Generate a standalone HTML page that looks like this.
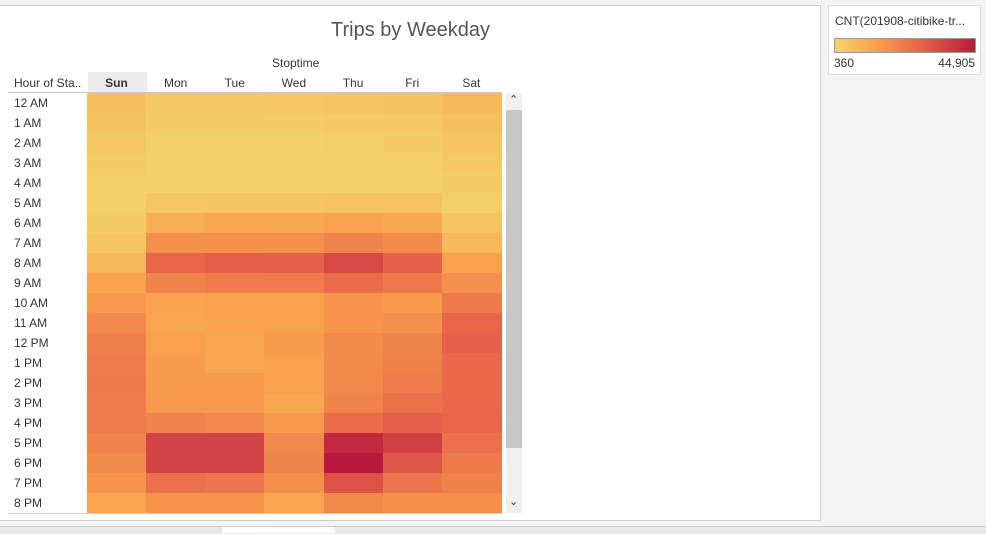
<!DOCTYPE html>
<html><head><meta charset="utf-8">
<style>
body{margin:0;width:986px;height:533px;background:#f3f3f3;font-family:"Liberation Sans",sans-serif;position:relative;overflow:hidden}
.abs{position:absolute}
#frame{left:0;top:5px;width:821px;height:516px;background:#fff;border:1px solid #cfcfcf;border-left:none;box-sizing:border-box}
.hd{font-size:12px;color:#333;text-align:center;width:59px;top:76px}
.rl{font-size:12px;color:#333;left:14px}
</style></head><body>
<div id="frame" class="abs"></div>
<div class="abs" style="left:0;width:821px;top:19px;text-align:center;font-size:20px;color:#555">Trips by Weekday</div>
<div class="abs" style="left:272px;top:56px;font-size:12px;color:#333">Stoptime</div>
<div class="abs" style="left:14px;top:76px;font-size:12px;color:#333">Hour of Sta..</div>
<div class="abs" style="left:88px;top:72px;width:59px;height:20px;background:#ececec"></div>
<div class="abs" style="left:8px;top:92px;width:494px;height:1px;background:#c8c8c8"></div>
<div class="abs" style="left:8px;top:513px;width:494px;height:1px;background:#d0d0d0"></div>
<div id="grid"></div>
<div class="abs" style="left:506px;top:93px;width:16px;height:420px;background:#f0f0f0"></div>
<div class="abs" style="left:506px;top:110px;width:16px;height:338px;background:#c8c8c8"></div>
<div class="abs" style="left:509px;top:93px;font-size:11px;color:#333">&#8963;</div>
<div class="abs" style="left:509px;top:495px;font-size:11px;color:#333">&#8964;</div>
<div class="abs" style="left:828px;top:5px;width:153px;height:70px;background:#fff;border:1px solid #ddd;box-sizing:border-box">
 <div class="abs" style="left:6px;top:8px;font-size:12px;color:#333">CNT(201908-citibike-tr...</div>
 <div class="abs" style="left:5px;top:32px;width:142px;height:15px;border:1px solid #999;box-sizing:border-box;background:linear-gradient(to right,#f3d36a,#f9a04c 30%,#e8654a 60%,#b81a3e)"></div>
 <div class="abs" style="left:5px;top:50px;font-size:12px;color:#333">360</div>
 <div class="abs" style="right:5px;top:50px;font-size:12px;color:#333">44,905</div>
</div>
<div class="abs" style="left:0;top:526px;width:986px;height:7px;background:#e8e8e8;border-top:1px solid #ccc"></div>
<div class="abs" style="left:222px;top:527px;width:113px;height:6px;background:#fff"></div>
<script>
const days=["Sun","Mon","Tue","Wed","Thu","Fri","Sat"];
const hours=["12 AM","1 AM","2 AM","3 AM","4 AM","5 AM","6 AM","7 AM","8 AM","9 AM","10 AM","11 AM","12 PM","1 PM","2 PM","3 PM","4 PM","5 PM","6 PM","7 PM","8 PM"];
const counts=[
[5710,3030,3030,3480,4370,4810,7040],
[4810,2140,2140,2140,2590,3030,5260],
[3480,1250,1250,1250,1700,2140,4370],
[2140,800,800,1250,1250,1700,3030],
[1700,1250,1250,1250,1250,1700,2140],
[1250,3480,3920,3920,4370,4370,1700],
[2140,10160,11940,11500,12830,11050,3920],
[3920,17290,17290,17290,20410,18180,7490],
[7490,27090,28870,27980,33770,27980,13720],
[12830,20410,21740,21740,25310,22630,17290],
[15510,12830,13720,13720,16400,15510,22630],
[19070,12390,12830,13720,16400,17290,27090],
[20850,13720,12390,14610,18180,19960,27980],
[21740,14610,12390,13720,19070,20850,26200],
[22190,14610,14610,13720,19070,21740,26200],
[21740,15510,15510,11940,19960,24410,26200],
[21740,19960,19070,15510,25310,27980,27090],
[19960,35110,35110,19070,41340,36000,24410],
[18180,35110,35110,19960,44905,30650,22630],
[16400,24410,23520,17290,31540,23520,20850],
[12390,16400,16400,12390,19070,17290,17290]];
const minV=360,maxV=44905;
const stops=[[0,[243,211,106]],[0.3,[249,160,76]],[0.6,[232,101,74]],[1,[184,26,62]]];
function color(v){let t=(v-minV)/(maxV-minV);t=Math.max(0,Math.min(1,t));
for(let i=1;i<stops.length;i++){if(t<=stops[i][0]){const a=stops[i-1],b=stops[i],f=(t-a[0])/(b[0]-a[0]);
return 'rgb('+a[1].map((c,k)=>Math.round(c+(b[1][k]-c)*f)).join(',')+')';}}return 'rgb(184,26,62)';}
const x0=87,cw=59.14,y0=93,rh=20;
const xPos=i=>x0+i*cw, yPos=j=>y0+j*rh;
const g=document.getElementById('grid');
days.forEach((d,i)=>{const h=document.createElement('div');h.className='abs hd';h.style.left=xPos(i)+'px';h.textContent=d;
if(i===0)h.style.fontWeight='bold';


g.appendChild(h);});
hours.forEach((hr,j)=>{const l=document.createElement('div');l.className='abs rl';l.style.top=(yPos(j)+3)+'px';l.textContent=hr;


g.appendChild(l);
days.forEach((d,i)=>{const c=document.createElement('div');c.className='abs';
c.style.left=xPos(i)+'px';c.style.top=yPos(j)+'px';c.style.width=(cw+0.6)+'px';c.style.height=rh+'px';
c.style.background=color(counts[j][i]);c.title=d+' '+hr+': '+counts[j][i];


g.appendChild(c);});});
</script>
</body></html>
